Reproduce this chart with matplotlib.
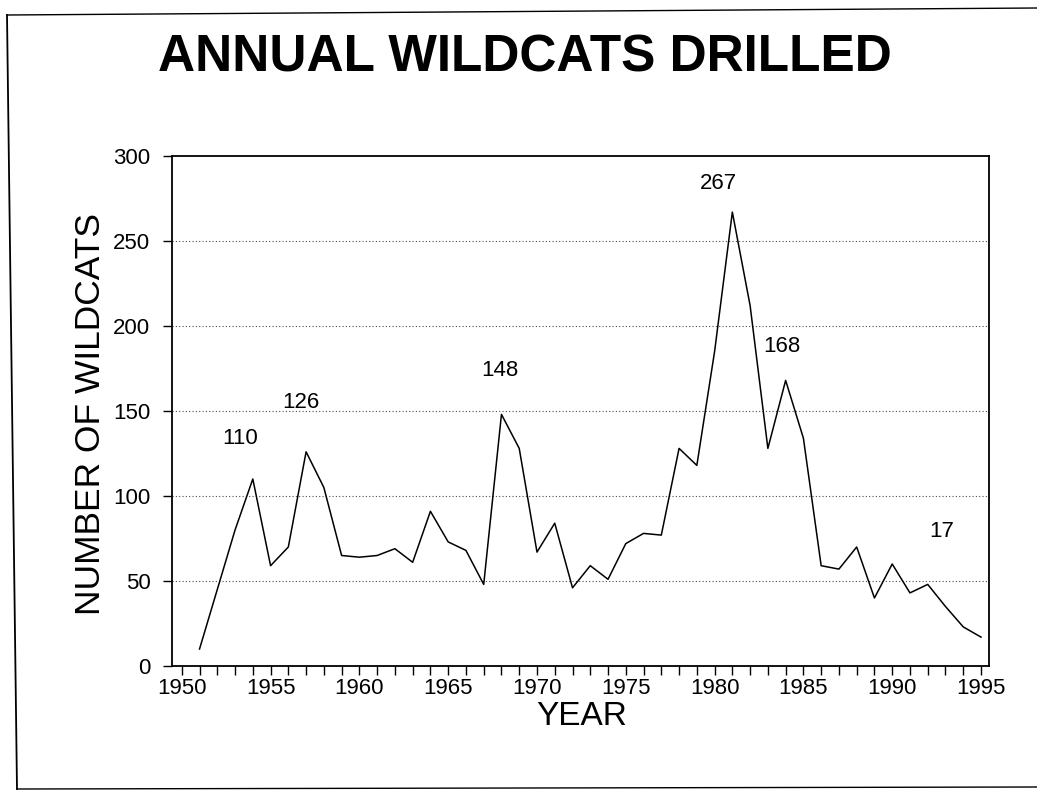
import matplotlib
matplotlib.use('Agg')
import matplotlib.pyplot as plt
from matplotlib.lines import Line2D
from matplotlib.ticker import MultipleLocator

# data
years = list(range(1951, 1996))
wildcats = [10, 45, 80, 110, 59, 70, 126, 105, 65, 64,
            65, 69, 61, 91, 73, 68, 48, 148, 128, 67,
            84, 46, 59, 51, 72, 78, 77, 128, 118, 185,
            267, 212, 128, 168, 134, 59, 57, 70, 40, 60,
            43, 48, 35, 23, 17]

peak_labels = ['110', '126', '148', '267', '168', '17']
peak_label_x = [1953.3, 1956.7, 1967.9, 1980.2, 1983.8, 1992.8]
peak_label_y = [134, 155, 174, 284, 188, 79]

plt.rcParams['font.family'] = ['Liberation Sans', 'DejaVu Sans']

fig = plt.figure(figsize=(10.37, 7.92), dpi=100)
fig.patch.set_facecolor('white')

# axes placed to match the scan
ax = fig.add_axes([172 / 1037, 1 - 666 / 792, (989 - 172) / 1037, (666 - 156) / 792])

ax.plot(years, wildcats, color='black', linewidth=1.1)

ax.set_xlim(1949.45, 1995.45)
ax.set_ylim(0, 300)

# dotted horizontal grid
for v in [50, 100, 150, 200, 250]:
    ax.axhline(v, color='0.3', linestyle=(0, (1, 2)), linewidth=0.8, zorder=0)

ax.xaxis.set_major_locator(MultipleLocator(5))
ax.xaxis.set_minor_locator(MultipleLocator(1))
ax.yaxis.set_major_locator(MultipleLocator(50))

ax.tick_params(axis='x', which='both', direction='out', length=6.5, width=1.0,
               labelsize=16, pad=2, top=False)
ax.tick_params(axis='y', which='major', direction='out', length=6.5, width=1.0,
               labelsize=16, pad=9, right=False)

for side in ['left', 'right', 'top', 'bottom']:
    ax.spines[side].set_linewidth(1.3)

# peak values
for txt, xx, yy in zip(peak_labels, peak_label_x, peak_label_y):
    ax.text(xx, yy, txt, fontsize=16, ha='center', va='center')

ax.set_xlabel('YEAR', fontsize=24, va='baseline')
ax.xaxis.set_label_coords((582 - 172) / 817, -(725 - 666) / 510)
ax.set_ylabel('NUMBER OF WILDCATS', fontsize=25.5, va='center')
ax.yaxis.set_label_coords((91 - 172) / 817, (666 - 414) / 510)

fig.text(525 / 1037, 1 - 72 / 792, 'ANNUAL WILDCATS DRILLED', fontsize=37,
         fontweight='bold', ha='center', va='baseline')

# outer frame of the scanned page
fig.add_artist(Line2D([7 / 1037, 17 / 1037], [1 - 15 / 792, 1 - 789 / 792],
                      color='black', linewidth=1.3))
fig.add_artist(Line2D([7 / 1037, 1.0], [1 - 15 / 792, 1 - 8 / 792],
                      color='black', linewidth=1.0))
fig.add_artist(Line2D([17 / 1037, 1.0], [1 - 789 / 792, 1 - 787 / 792],
                      color='black', linewidth=1.0))

fig.savefig('out.png', dpi=100, facecolor='white')
